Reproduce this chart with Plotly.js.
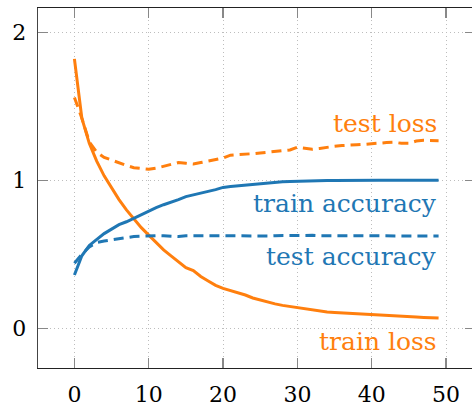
<!DOCTYPE html>
<html>
<head>
<meta charset="utf-8">
<script src="https://cdn.plot.ly/plotly-3.0.1.min.js"></script>
<style>
html,body{margin:0;padding:0;overflow:hidden;background:#fff;}
#chart{width:475px;height:406px;}
</style>
</head>
<body>
<div id="chart"></div>
<script>
const epochs = Array.from({length: 50}, (_, i) => i);

const trainLoss = [1.82,1.42,1.25,1.13,1.03,0.95,0.87,0.80,0.74,0.68,
  0.63,0.58,0.53,0.49,0.45,0.41,0.39,0.35,0.32,0.29,
  0.27,0.255,0.245,0.225,0.205,0.19,0.175,0.165,0.155,0.147,
  0.143,0.13,0.122,0.115,0.11,0.107,0.104,0.10,0.096,0.092,
  0.09,0.088,0.084,0.085,0.08,0.077,0.076,0.074,0.073,0.07];

const testLoss = [1.56,1.42,1.26,1.19,1.155,1.135,1.12,1.10,1.085,1.078,
  1.074,1.082,1.095,1.11,1.12,1.115,1.11,1.12,1.13,1.14,
  1.15,1.17,1.172,1.175,1.18,1.185,1.19,1.195,1.20,1.205,
  1.223,1.215,1.21,1.215,1.225,1.23,1.235,1.24,1.24,1.243,
  1.248,1.25,1.255,1.257,1.25,1.25,1.265,1.27,1.268,1.268];

const trainAcc = [0.36,0.49,0.56,0.60,0.64,0.67,0.70,0.72,0.745,0.77,
  0.795,0.815,0.835,0.85,0.87,0.89,0.90,0.912,0.925,0.937,
  0.952,0.958,0.963,0.97,0.975,0.98,0.984,0.987,0.99,0.992,
  0.994,0.995,0.996,0.997,0.998,0.998,0.999,0.999,0.999,0.999,
  1.0,1.0,1.0,1.0,1.0,1.0,1.0,1.0,1.0,1.0];

const testAcc = [0.44,0.50,0.55,0.58,0.59,0.597,0.605,0.615,0.62,0.622,
  0.625,0.626,0.625,0.624,0.62,0.625,0.626,0.625,0.624,0.625,
  0.626,0.625,0.624,0.625,0.626,0.625,0.624,0.626,0.627,0.628,
  0.63,0.632,0.628,0.626,0.625,0.626,0.625,0.625,0.626,0.625,
  0.624,0.625,0.626,0.625,0.624,0.624,0.625,0.625,0.624,0.624];

const xTicks = [0,10,20,30,40,50];
const yTicks = [0,1,2];
const labels = ["test loss","train accuracy","test accuracy","train loss"];

const ORANGE = '#ff7f0e', BLUE = '#1f77b4';
const DASH = '10px,6px';

const traces = [
  {x: epochs, y: trainLoss, mode:'lines', line:{color:ORANGE, width:3}},
  {x: epochs, y: testLoss, mode:'lines', line:{color:ORANGE, width:3, dash:DASH}},
  {x: epochs, y: trainAcc, mode:'lines', line:{color:BLUE, width:3}},
  {x: epochs, y: testAcc, mode:'lines', line:{color:BLUE, width:3, dash:DASH}}
];

const font = 'DejaVu Serif, serif';
const annY = [1.385, 0.84, 0.482, -0.092];
const annC = [ORANGE, BLUE, BLUE, ORANGE];

const layout = {
  width: 475, height: 406,
  margin: {l:38, r:0, t:8, b:38},
  paper_bgcolor:'#fff', plot_bgcolor:'#fff',
  showlegend:false,
  font:{family:font, size:22, color:'#000'},
  xaxis:{
    range:[-4.9, 53.9], tickvals:xTicks, ticktext:xTicks.map(String),
    showgrid:true, gridcolor:'#bdbdbd', griddash:'1px,3px', gridwidth:1,
    zeroline:false, showline:true, linecolor:'#222', linewidth:1.3, mirror:'ticks',
    ticks:'inside', ticklen:10, tickcolor:'#888', tickwidth:1.2,
    ticklabelstandoff:6, tickfont:{family:font, size:22, color:'#000'}
  },
  yaxis:{
    range:[-0.268, 2.164], tickvals:yTicks, ticktext:yTicks.map(String),
    showgrid:true, gridcolor:'#bdbdbd', griddash:'1px,3px', gridwidth:1,
    zeroline:false, showline:true, linecolor:'#444', linewidth:1.3, mirror:'ticks',
    ticks:'inside', ticklen:10, tickcolor:'#888', tickwidth:1.2,
    ticklabelstandoff:6, tickfont:{family:font, size:22, color:'#000'}
  },
  annotations: labels.map((t, i) => ({
    text:t, x:49, y:annY[i], xref:'x', yref:'y', xanchor:'right', yanchor:'middle',
    showarrow:false, font:{family:font, size:25, color:annC[i]}
  }))
};

Plotly.newPlot('chart', traces, layout, {displayModeBar:false, staticPlot:true});
</script>
</body>
</html>
